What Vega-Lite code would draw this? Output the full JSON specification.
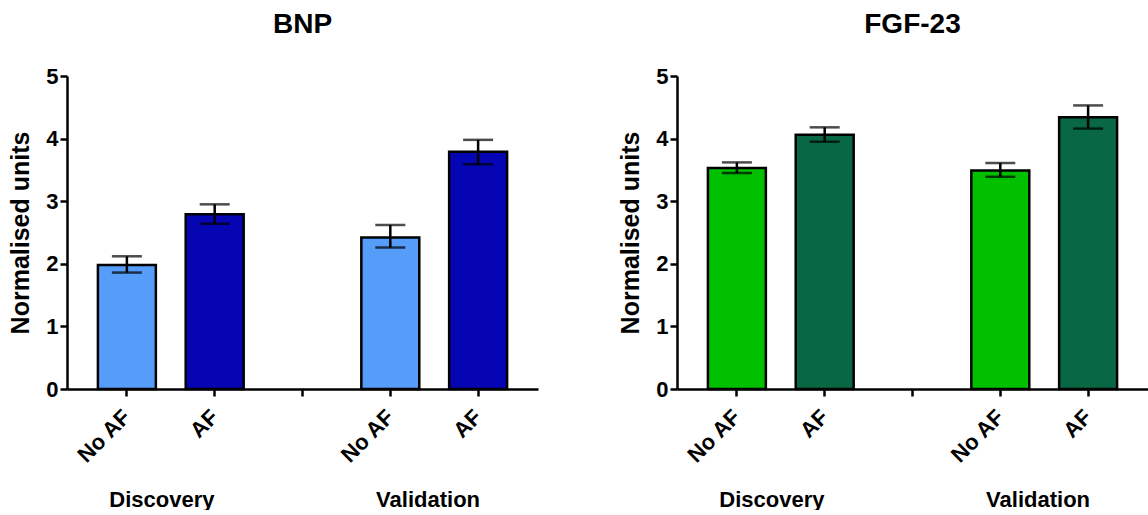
{
  "$schema": "https://vega.github.io/schema/vega-lite/v6.json",
  "background": "white",
  "padding": {"left": 8, "top": 11, "right": 0, "bottom": 0},
  "spacing": 80,
  "config": {
    "view": {"stroke": null},
    "font": "Liberation Sans",
    "axis": {
      "grid": false,
      "domainColor": "black",
      "domainWidth": 2.5,
      "tickColor": "black",
      "tickWidth": 2.5,
      "tickSize": 7,
      "labelColor": "black",
      "labelFont": "Liberation Sans",
      "labelFontWeight": "bold",
      "labelFontSize": 22,
      "titleColor": "black",
      "titleFont": "Liberation Sans",
      "titleFontWeight": "bold",
      "titleFontSize": 25
    },
    "title": {
      "font": "Liberation Sans",
      "fontSize": 28,
      "fontWeight": "bold",
      "color": "black",
      "anchor": "middle",
      "offset": 26
    }
  },
  "datasets": {
    "bnp": [
      {"key": "D No AF", "status": "No AF", "mean": 1.98, "lo": 1.86, "hi": 2.12},
      {"key": "D AF", "status": "AF", "mean": 2.79, "lo": 2.64, "hi": 2.95},
      {"key": "V No AF", "status": "No AF", "mean": 2.42, "lo": 2.26, "hi": 2.62},
      {"key": "V AF", "status": "AF", "mean": 3.79, "lo": 3.59, "hi": 3.98}
    ],
    "fgf23": [
      {"key": "D No AF", "status": "No AF", "mean": 3.53, "lo": 3.45, "hi": 3.62},
      {"key": "D AF", "status": "AF", "mean": 4.06, "lo": 3.95, "hi": 4.18},
      {"key": "V No AF", "status": "No AF", "mean": 3.49, "lo": 3.39, "hi": 3.61},
      {"key": "V AF", "status": "AF", "mean": 4.34, "lo": 4.16, "hi": 4.53}
    ],
    "cohorts": [
      {"cohort": "Discovery"},
      {"cohort": "Validation"}
    ]
  },
  "hconcat": [
    {
      "title": "BNP",
      "width": 471,
      "height": 313,
      "layer": [
        {
          "data": {"name": "bnp"},
          "encoding": {
            "x": {
              "field": "key",
              "type": "nominal",
              "sort": null,
              "scale": {"domain": ["D No AF", "D AF", "gap", "V No AF", "V AF"], "paddingInner": 0.34, "paddingOuter": 0.352},
              "axis": {"title": null, "labelAngle": -45, "labelAlign": "right", "labelBaseline": "middle", "labelPadding": 17, "labelExpr": "datum.value == 'gap' ? '' : slice(datum.value, 2)"}
            }
          },
          "layer": [
            {
              "mark": {"type": "bar", "stroke": "black", "strokeWidth": 2.5},
              "encoding": {
                "y": {"field": "mean", "type": "quantitative", "scale": {"domain": [0, 5], "nice": false}, "axis": {"title": "Normalised units", "values": [0, 1, 2, 3, 4, 5], "format": "d", "labelPadding": 2, "titlePadding": 12}},
                "color": {"field": "status", "type": "nominal", "scale": {"domain": ["No AF", "AF"], "range": ["#559df8", "#0505b4"]}, "legend": null}
              }
            },
            {
              "mark": {"type": "rule", "color": "black", "strokeWidth": 2.5},
              "encoding": {"y": {"field": "lo", "type": "quantitative"}, "y2": {"field": "hi"}}
            },
            {
              "mark": {"type": "tick", "color": "black", "size": 30, "thickness": 2.5},
              "encoding": {"y": {"field": "hi", "type": "quantitative"}}
            },
            {
              "mark": {"type": "tick", "color": "black", "size": 30, "thickness": 2.5},
              "encoding": {"y": {"field": "lo", "type": "quantitative"}}
            }
          ]
        },
        {
          "data": {"name": "cohorts"},
          "mark": {"type": "point", "opacity": 0},
          "encoding": {
            "x": {
              "field": "cohort",
              "type": "nominal",
              "scale": {"type": "point", "padding": 0.385},
              "axis": {"title": null, "orient": "bottom", "offset": 100, "domain": false, "ticks": false, "tickSize": 0, "labelPadding": 0, "labelAngle": 0, "labelBaseline": "top", "labelFontSize": 22, "labelOffset": -8}
            }
          }
        }
      ],
      "resolve": {"scale": {"x": "independent"}, "axis": {"x": "independent"}}
    },
    {
      "title": "FGF-23",
      "width": 471,
      "height": 313,
      "layer": [
        {
          "data": {"name": "fgf23"},
          "encoding": {
            "x": {
              "field": "key",
              "type": "nominal",
              "sort": null,
              "scale": {"domain": ["D No AF", "D AF", "gap", "V No AF", "V AF"], "paddingInner": 0.34, "paddingOuter": 0.352},
              "axis": {"title": null, "labelAngle": -45, "labelAlign": "right", "labelBaseline": "middle", "labelPadding": 17, "labelExpr": "datum.value == 'gap' ? '' : slice(datum.value, 2)"}
            }
          },
          "layer": [
            {
              "mark": {"type": "bar", "stroke": "black", "strokeWidth": 2.5},
              "encoding": {
                "y": {"field": "mean", "type": "quantitative", "scale": {"domain": [0, 5], "nice": false}, "axis": {"title": "Normalised units", "values": [0, 1, 2, 3, 4, 5], "format": "d", "labelPadding": 2, "titlePadding": 12}},
                "color": {"field": "status", "type": "nominal", "scale": {"domain": ["No AF", "AF"], "range": ["#00c000", "#086844"]}, "legend": null}
              }
            },
            {
              "mark": {"type": "rule", "color": "black", "strokeWidth": 2.5},
              "encoding": {"y": {"field": "lo", "type": "quantitative"}, "y2": {"field": "hi"}}
            },
            {
              "mark": {"type": "tick", "color": "black", "size": 30, "thickness": 2.5},
              "encoding": {"y": {"field": "hi", "type": "quantitative"}}
            },
            {
              "mark": {"type": "tick", "color": "black", "size": 30, "thickness": 2.5},
              "encoding": {"y": {"field": "lo", "type": "quantitative"}}
            }
          ]
        },
        {
          "data": {"name": "cohorts"},
          "mark": {"type": "point", "opacity": 0},
          "encoding": {
            "x": {
              "field": "cohort",
              "type": "nominal",
              "scale": {"type": "point", "padding": 0.385},
              "axis": {"title": null, "orient": "bottom", "offset": 100, "domain": false, "ticks": false, "tickSize": 0, "labelPadding": 0, "labelAngle": 0, "labelBaseline": "top", "labelFontSize": 22, "labelOffset": -8}
            }
          }
        }
      ],
      "resolve": {"scale": {"x": "independent"}, "axis": {"x": "independent"}}
    }
  ],
  "resolve": {"scale": {"color": "independent", "y": "independent"}}
}
